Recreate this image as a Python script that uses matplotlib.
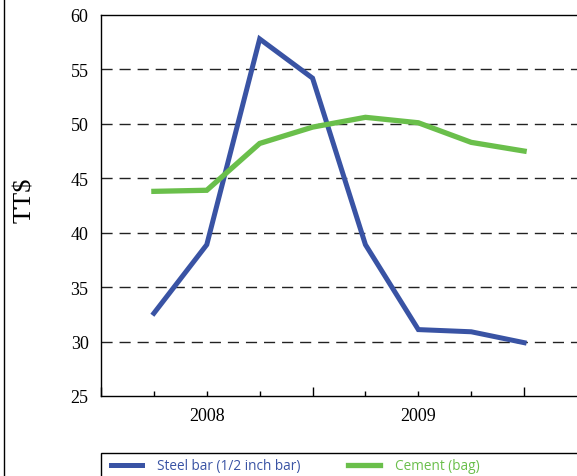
import matplotlib
matplotlib.use("Agg")
import matplotlib.pyplot as plt
from matplotlib.lines import Line2D
from matplotlib.patches import Rectangle

# Quarterly prices, TT$ (Q4 2007 .. Q3 2009)
quarters = [0, 1, 2, 3, 4, 5, 6, 7]
steel_bar = [32.6, 38.9, 57.8, 54.2, 38.9, 31.1, 30.9, 29.9]
cement = [43.8, 43.9, 48.2, 49.7, 50.6, 50.1, 48.3, 47.5]
year_labels = ["", "2008", "", "", "", "2009", "", ""]
series_names = ["Steel bar (1/2 inch bar)", "Cement (bag)"]

blue = "#3953a4"
green = "#6abf4b"

fig = plt.figure(figsize=(5.77, 4.77), dpi=100)
ax = fig.add_axes([101 / 577, 1 - 397 / 477, 1 - 101 / 577, 381 / 477])

l1, = ax.plot(quarters, steel_bar, color=blue, lw=3.6, solid_joinstyle="miter")
l2, = ax.plot(quarters, cement, color=green, lw=3.8, solid_joinstyle="miter")

ax.set_ylim(25, 60)
ax.set_xlim(-1, 8)
ax.set_yticks(range(25, 61, 5))
for y in range(30, 60, 5):
    ax.axhline(y, color="#222222", lw=1.0, ls=(0, (8, 5)), zorder=0)

ax.spines["right"].set_visible(False)
for s in ["left", "bottom", "top"]:
    ax.spines[s].set_linewidth(1.0)

# year boundaries get long ticks, quarters get short ones carrying the labels
ax.set_xticks([-1, 3, 7])
ax.set_xticklabels(["", "", ""])
ax.set_xticks(quarters, minor=True)
ax.set_xticklabels(year_labels, minor=True)
ax.tick_params(axis="x", which="major", direction="in", length=6.5, width=1)
ax.tick_params(axis="x", which="minor", direction="in", length=3.6, width=1, pad=8)
ax.tick_params(axis="y", length=0, pad=9)
for lab in ax.get_xticklabels(minor=True) + ax.get_yticklabels():
    lab.set_family("Liberation Serif")
    lab.set_fontsize(13)

fig.text(25 / 577, 1 - 200 / 477, "TT$", rotation=90, family="Liberation Serif",
         fontsize=19, ha="center", va="center")

# left frame rule and legend box
fig.add_artist(Line2D([4 / 577, 4 / 577], [0, 1], color="black", lw=1.0))
fig.add_artist(Rectangle((101 / 577, -0.05), 1, 1 - 454 / 477 + 0.05,
                         fill=False, edgecolor="black", lw=1.0,
                         transform=fig.transFigure))

leg = fig.legend([l1, l2], series_names, loc="center left",
                 bbox_to_anchor=(111 / 577, 1 - 467 / 477), ncol=2,
                 frameon=False, borderaxespad=0, borderpad=0,
                 handlelength=2.3, handletextpad=1.1, columnspacing=3.5,
                 prop={"family": "Open Sans", "size": 9.8})
for txt, c in zip(leg.get_texts(), [blue, green]):
    txt.set_color(c)

fig.savefig("out.png", dpi=100)
